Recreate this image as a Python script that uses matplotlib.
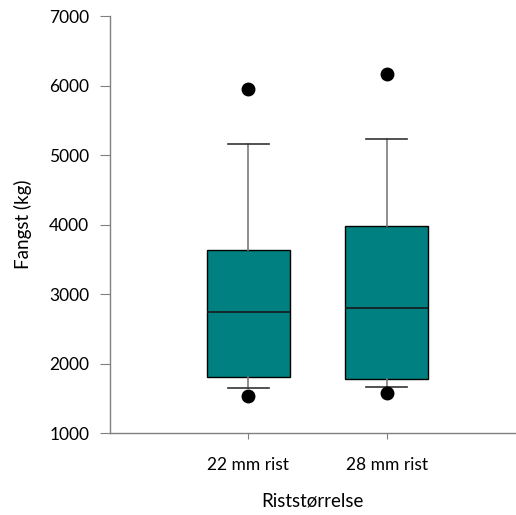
import matplotlib
matplotlib.use('Agg')
import matplotlib.pyplot as plt

# box statistics (kg)
labels = ['22 mm rist', '28 mm rist']
q1 = [1810, 1780]
med = [2740, 2800]
q3 = [3640, 3985]
whislo = [1650, 1665]
whishi = [5165, 5225]
fliers = [[1535, 5950], [1575, 6165]]

plt.rcParams['font.family'] = ['Lato', 'DejaVu Sans']

stats = []
for i in range(len(labels)):
    stats.append(dict(label=labels[i], q1=q1[i], med=med[i], q3=q3[i],
                      whislo=whislo[i], whishi=whishi[i], fliers=fliers[i]))

fig = plt.figure(figsize=(5.16, 5.15), dpi=100)
ax = fig.add_axes([0.2132, 0.1592, 0.785, 0.8097])

ax.bxp(stats, positions=[1, 2], widths=0.6, patch_artist=True,
       boxprops=dict(facecolor='#008080', edgecolor='black', linewidth=1),
       medianprops=dict(color='#1a1a1a', linewidth=1.2),
       whiskerprops=dict(color='#7a7a7a', linewidth=1.2),
       capprops=dict(color='#333333', linewidth=1.2),
       flierprops=dict(marker='o', markerfacecolor='black', markeredgecolor='black', markersize=9))

ax.set_xlim(0, 2.93)
ax.set_ylim(1000, 7000)
ax.set_yticks(range(1000, 7001, 1000))

for s in ['top', 'right']:
    ax.spines[s].set_visible(False)
for s in ['left', 'bottom']:
    ax.spines[s].set_color('#808080')
    ax.spines[s].set_linewidth(1)

ax.tick_params(axis='y', length=7, color='#808080', labelsize=12.5, pad=8)
ax.tick_params(axis='x', length=4, color='#808080', labelsize=12.5, pad=13)

ax.set_ylabel('Fangst (kg)', fontsize=13.5, labelpad=12)
ax.set_xlabel('Riststørrelse', fontsize=13.5, labelpad=14)

fig.savefig('out.png', dpi=100)
